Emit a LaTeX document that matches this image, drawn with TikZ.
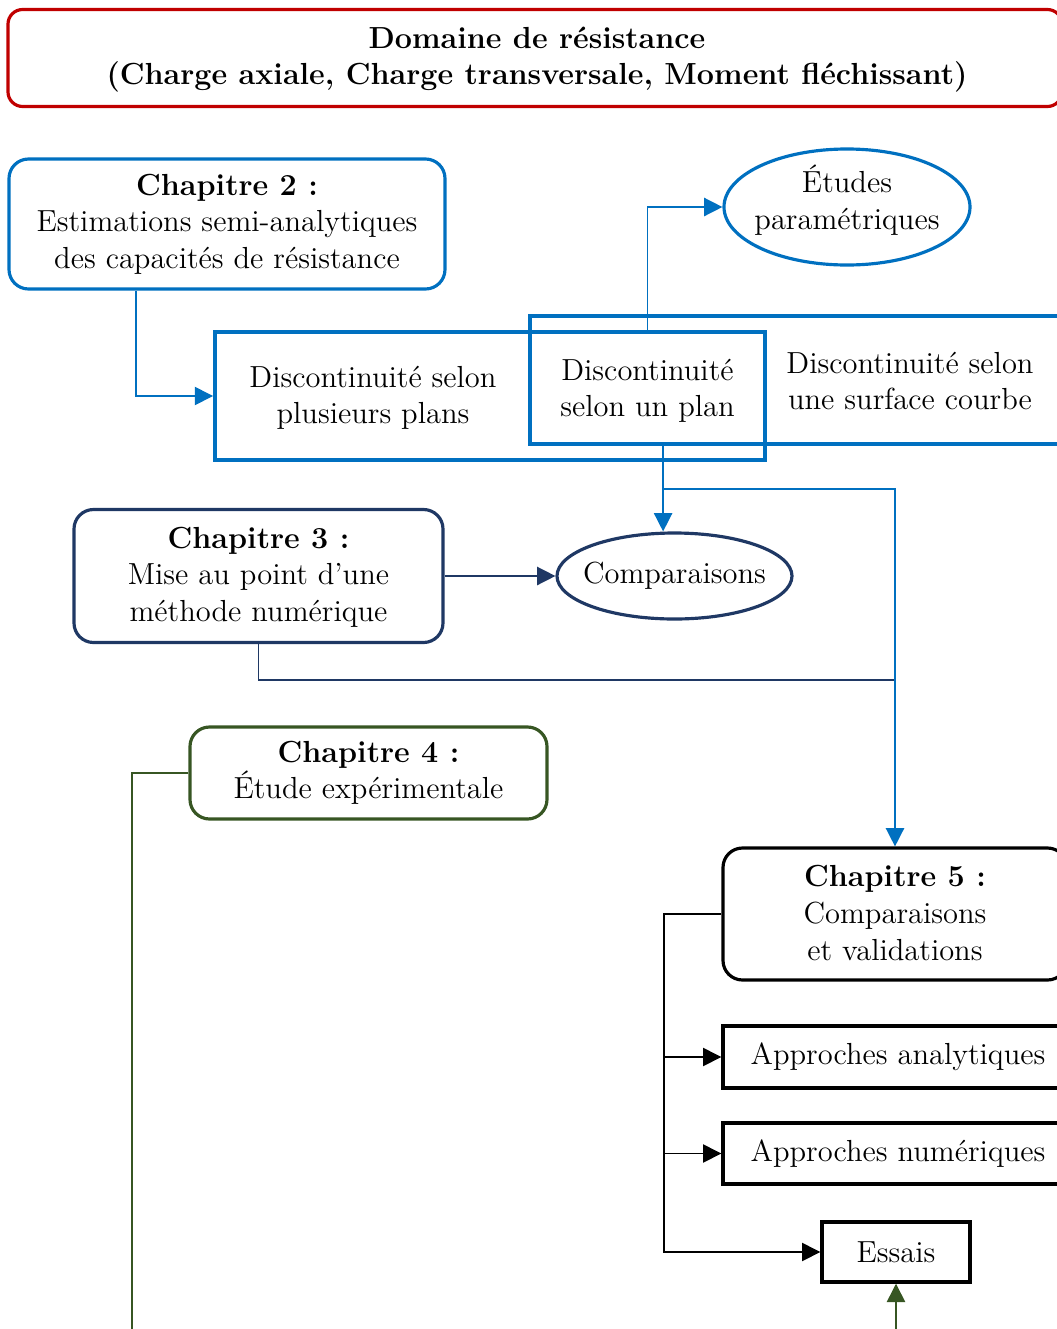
\documentclass[tikz,border=0pt]{standalone}
\usetikzlibrary{arrows.meta,shapes.geometric}
\definecolor{cred}{HTML}{C00000}
\definecolor{cblue}{HTML}{0070C0}
\definecolor{cnavy}{HTML}{1F3864}
\definecolor{cgreen}{HTML}{375623}
\begin{document}
\begin{tikzpicture}[x=0.41pt,y=-0.41pt,
  every node/.style={font=\fontsize{12.5}{15}\selectfont, align=center},
  sz/.style 2 args={minimum width=#1*0.41pt, minimum height=#2*0.41pt},
  box/.style={draw, line width=1.3pt, inner sep=0pt, rounded corners=8pt},
  rect/.style={draw, line width=1.4pt, inner sep=0pt},
  brect/.style={draw=cblue, line width=1.6pt, inner sep=0pt},
  ell/.style={draw, ellipse, line width=1.3pt, inner sep=0pt},
  conn/.style={line width=0.6pt},
  arr/.style={-{Triangle[length=7.5pt,width=7.5pt]}}
]
\useasboundingbox (0,0) rectangle (1057,1329);
\clip (0,0) rectangle (1057,1329);

% title
\node[box, rounded corners=6pt, draw=cred, sz={1054}{97}] (title) at (535,58) {};
\node (titletxt) at (537,59.5) {\textbf{Domaine de résistance}\\\textbf{(Charge axiale, Charge transversale, Moment fléchissant)}};

% chapter 2
\node[box, draw=cblue, sz={436}{130}] (ch2) at (227,224) {\textbf{Chapitre 2 :}\\Estimations semi-analytiques\\des capacités de résistance};

% etudes
\node[ell, draw=cblue, sz={246}{116}] (etudes) at (847,207) {};
\node (etudestxt) at (847,200) {Études\\paramétriques};

% discontinuities
\node[brect, sz={550}{128}] (plusieurs) at (490,396) {};
\node[brect, sz={540}{128}] (courbe) at (800,380) {};
\node (plusieurstxt) at (373,398) {Discontinuité selon\\plusieurs plans};
\node (courbetxt) at (910,381) {Discontinuité selon\\une surface courbe};
\node[inner sep=0pt, sz={235}{112}] (unplan) at (647.5,388) {};
\node (unplantxt) at (647.5,391) {Discontinuité\\selon un plan};

% chapter 3 and comparaisons
\node[box, draw=cnavy, sz={369}{133}] (ch3) at (258.5,576) {};
\node (ch3txt) at (258.5,577) {\textbf{Chapitre 3 :}\\Mise au point d'une\\méthode numérique};
\node[ell, draw=cnavy, sz={235}{86}] (comp) at (674.5,576) {};
\node (comptxt) at (674.5,576) {Comparaisons};

% chapter 4
\node[box, draw=cgreen, sz={357}{92}] (ch4) at (368.5,773) {\textbf{Chapitre 4 :}\\Étude expérimentale};

% chapter 5
\node[box, draw=black, sz={344}{132}] (ch5) at (895,914) {};
\node (ch5txt) at (895,913) {\textbf{Chapitre 5 :}\\Comparaisons\\et validations};
\node[rect, sz={350}{62}] (analyt) at (898,1057) {Approches analytiques};
\node[rect, sz={350}{61}] (numer) at (898,1153.5) {Approches numériques};
\node[rect, sz={148}{60}] (essais) at (896,1252) {Essais};

% connectors
\draw[cblue, conn, arr] ([xshift=-37.3pt]ch2.south) |- (plusieurs.west);
\draw[cblue, conn, arr] (unplan.north) |- (etudes.west);
\coordinate (ub) at ([xshift=6.4pt]unplan.south);
\draw[cblue, conn, arr] (ub) -- (ub |- comp.north);
\coordinate (bj) at (663,489);
\draw[cblue, conn, arr] (bj) -| (ch5.north);

\draw[cnavy, conn, arr] (ch3.east) -- (comp.west);
\coordinate (j3) at (894,680);
\draw[cnavy, conn] (ch3.south) |- (j3);

\coordinate (g1) at (132,1400);
\coordinate (g2) at (896,1400);
\draw[cgreen, conn, arr] (ch4.west) -| (g1) -- (g2) -- (essais.south);

\coordinate (bus) at (664,914);
\draw[conn, arr] (ch5.west) -- (bus) |- (essais.west);
\draw[conn, arr] (bus |- analyt.west) -- (analyt.west);
\draw[conn, arr] (bus |- numer.west) -- (numer.west);
\end{tikzpicture}
\end{document}
